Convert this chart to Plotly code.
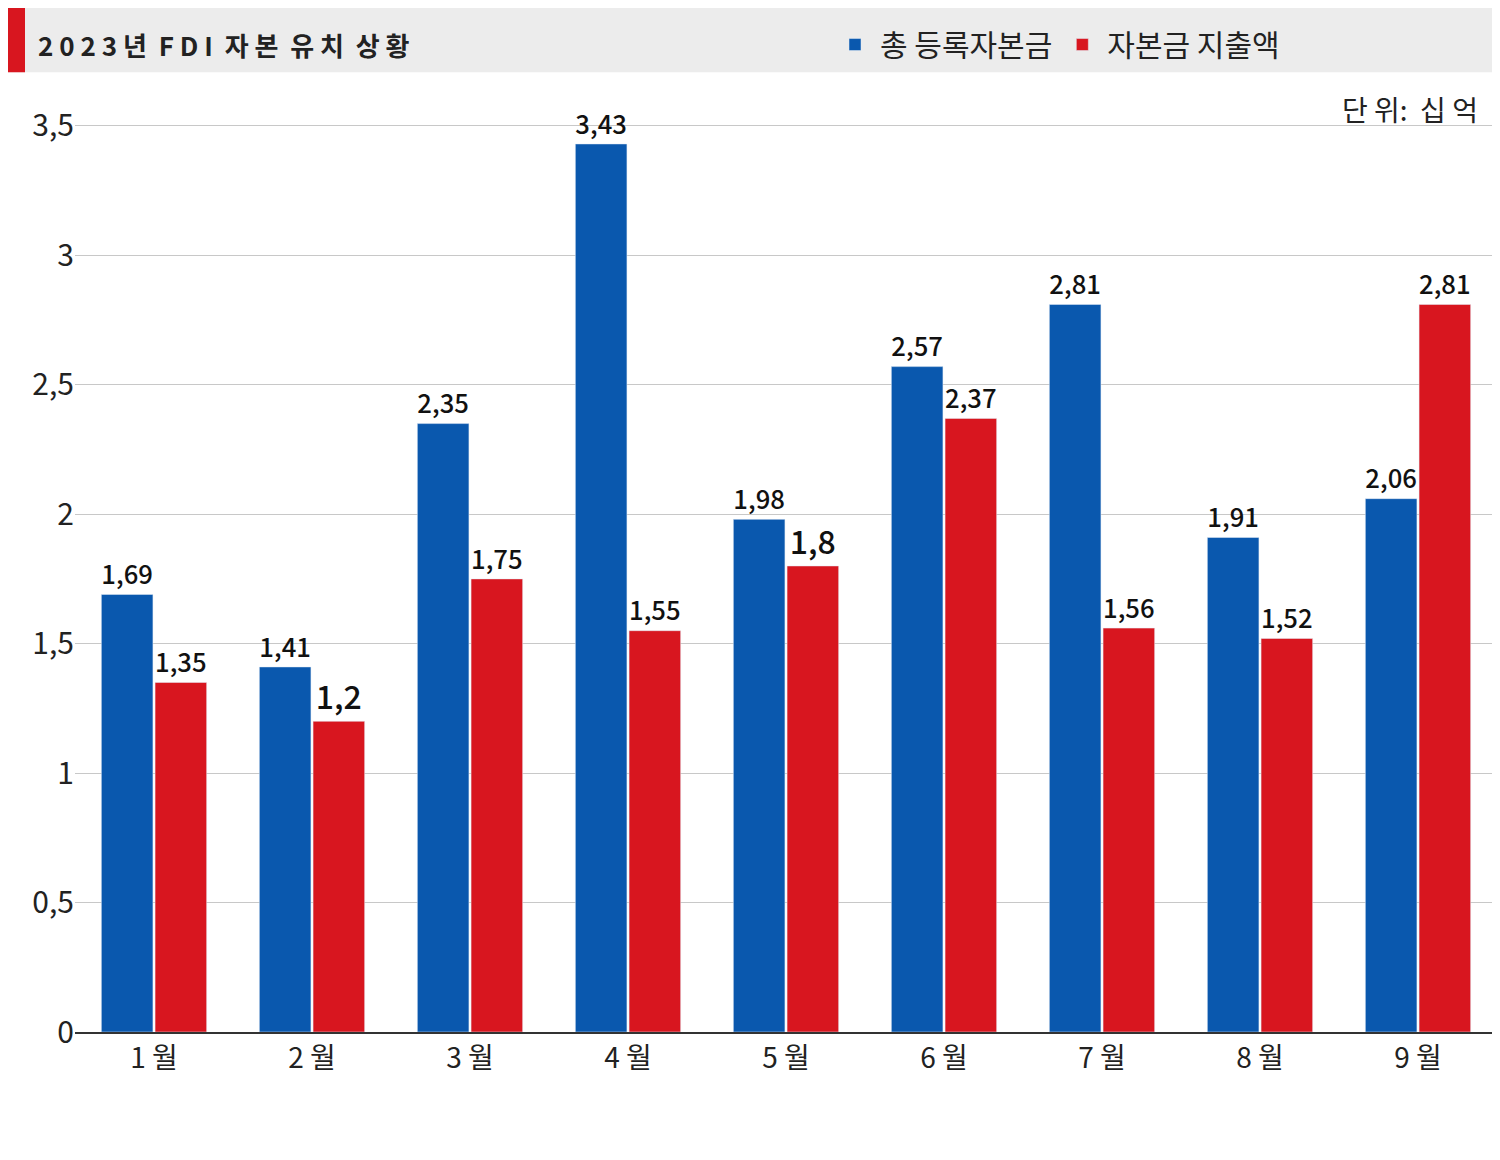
import plotly.graph_objects as go

months = ["1 월", "2 월", "3 월", "4 월", "5 월", "6 월", "7 월", "8 월", "9 월"]
registered = [1.69, 1.41, 2.35, 3.43, 1.98, 2.57, 2.81, 1.91, 2.06]
disbursed = [1.35, 1.2, 1.75, 1.55, 1.8, 2.37, 1.56, 1.52, 2.81]
ytick_vals = [0, 0.5, 1, 1.5, 2, 2.5, 3, 3.5]
ytick_text = ["0", "0,5", "1", "1,5", "2", "2,5", "3", "3,5"]

def fmt(v):
    return f"{v:g}".replace(".", ",")

FONT = "Noto Sans CJK KR"
LBL = dict(size=32, color="#111", family="Noto Sans CJK KR Medium, Noto Sans CJK KR")
fig = go.Figure()
fig.add_bar(x=months, y=registered, name="총 등록자본금", marker_color="#0a58ae",
            text=[fmt(v) for v in registered], textposition="outside",
            textfont=LBL, cliponaxis=False)
fig.add_bar(x=months, y=disbursed, name="자본금 지출액", marker_color="#d8161f",
            text=[fmt(v) for v in disbursed], textposition="outside",
            textfont=LBL, cliponaxis=False)

W, H = 1500, 1160
OFF = 8
ml, mr, mt, mb = 67, 11, 67, 136
pw, ph = W - ml - mr, H - mt - mb
def px(x): return (x - OFF - ml) / pw
def py(y): return 1 - (y - OFF - mt) / ph

fig.update_layout(
    width=W, height=H, margin=dict(l=ml, r=mr, t=mt, b=mb),
    paper_bgcolor="white", plot_bgcolor="white",
    font=dict(family=FONT, color="#222"),
    barmode="group", bargap=0.32, bargroupgap=0.04,
    xaxis=dict(tickfont=dict(size=28), showline=True, linecolor="#333", linewidth=2, ticks=""),
    yaxis=dict(range=[0, 3.65], tickvals=ytick_vals, ticktext=ytick_text,
               tickfont=dict(size=30), gridcolor="#c8c8c8", zeroline=False),
    legend=dict(orientation="h", x=px(830), y=py(32), xref="paper", yref="paper",
                yanchor="middle", xanchor="left", font=dict(size=30, color="#222"),
                bgcolor="rgba(0,0,0,0)", itemwidth=40, traceorder="normal"),
    showlegend=True,
    shapes=[
        dict(type="rect", xref="paper", yref="paper", x0=px(0), x1=px(W + 20), y0=py(-10), y1=py(60),
             fillcolor="#ececec", line_width=0, layer="below"),
        dict(type="rect", xref="paper", yref="paper", x0=px(5), x1=px(25), y0=py(-10), y1=py(60),
             fillcolor="#d8161f", line_width=0),
    ],
    annotations=[
        dict(text="<b>2 0 2 3 년  F D I  자 본  유 치  상 황</b>", xref="paper", yref="paper",
             x=px(36), y=py(32), xanchor="left", yanchor="middle", showarrow=False,
             font=dict(size=26, color="#222")),
        dict(text="단 위:  십 억", xref="paper", yref="paper", x=px(1480), y=py(97),
             xanchor="right", yanchor="middle", showarrow=False, font=dict(size=28, color="#222")),
    ],
)
fig.write_html("out.html")
